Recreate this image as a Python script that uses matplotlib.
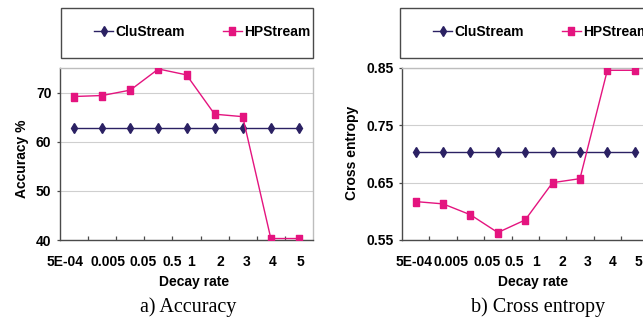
import matplotlib.pyplot as plt
from matplotlib.patches import Rectangle
from matplotlib.transforms import ScaledTranslation

decay_rates = ["5E-04", "0.005", "0.05", "0.5", "1", "2", "3", "4", "5"]

accuracy_clustream = [62.8, 62.8, 62.8, 62.8, 62.8, 62.8, 62.8, 62.8, 62.8]
accuracy_hpstream = [69.2, 69.4, 70.5, 74.8, 73.6, 65.6, 65.1, 40.3, 40.3]

entropy_clustream = [0.704, 0.704, 0.704, 0.704, 0.704, 0.704, 0.704, 0.704, 0.704]
entropy_hpstream = [0.617, 0.613, 0.594, 0.563, 0.585, 0.650, 0.657, 0.846, 0.846]

CLU_COLOR = "#2B2163"
HP_COLOR = "#E4147F"
DARK = "#4a4a4a"
LIGHT = "#bdbdbd"

# tall rectangle marker for HPStream
RECT = [(-0.36, -0.5), (0.36, -0.5), (0.36, 0.5), (-0.36, 0.5), (-0.36, -0.5)]

plt.rcParams["font.family"] = ["Liberation Sans", "DejaVu Sans"]
plt.rcParams["font.weight"] = "bold"

W, H = 643, 320
fig = plt.figure(figsize=(W / 100, H / 100), dpi=100)


def px_box(x0, y0, x1, y1):
    return [x0 / W, 1 - y1 / H, (x1 - x0) / W, (y1 - y0) / H]


def draw_panel(rect, clu, hp, ylim, yticks, yfmt, ylabel, ylabel_xy,
               label_shift, caption, caption_x, legend_box):
    ax = fig.add_axes(rect)
    x = range(len(decay_rates))
    ax.plot(x, clu, color=CLU_COLOR, lw=1.0, marker="d", ms=5.2,
            mec=CLU_COLOR, mfc=CLU_COLOR, label="CluStream", zorder=3)
    ax.plot(x, hp, color=HP_COLOR, lw=1.0, marker=RECT, ms=5.6,
            mec=HP_COLOR, mfc=HP_COLOR, label="HPStream", zorder=4)

    ax.set_xlim(-0.5, len(decay_rates) - 0.5)
    ax.set_ylim(*ylim)
    ax.set_yticks(yticks)
    ax.set_yticklabels([yfmt.format(v) for v in yticks])
    ax.yaxis.grid(True, color="#cfcfcf", lw=0.8)
    ax.set_axisbelow(True)

    ax.set_xticks(list(x))
    ax.set_xticklabels(decay_rates)
    ax.set_xticks([i + 0.5 for i in range(len(decay_rates) - 1)], minor=True)
    ax.tick_params(axis="x", which="major", length=0, pad=11, labelsize=10)
    ax.tick_params(axis="x", which="minor", direction="in", length=3,
                   width=0.9, color=DARK)
    ax.tick_params(axis="y", direction="out", length=2.2, width=0.9,
                   color=DARK, pad=4, labelsize=10)
    for lab, dx in zip(ax.get_xticklabels(), label_shift):
        lab.set_transform(lab.get_transform()
                          + ScaledTranslation(dx / 100, 0, fig.dpi_scale_trans))

    for side in ("left", "bottom"):
        ax.spines[side].set_color(DARK)
        ax.spines[side].set_linewidth(1.0)
    for side in ("top", "right"):
        ax.spines[side].set_color(LIGHT)
        ax.spines[side].set_linewidth(1.0)

    ax.set_xlabel("Decay rate", fontsize=10, fontweight="bold", va="center")
    ax.xaxis.set_label_coords(0.53, -0.244)
    ax.set_ylabel(ylabel, fontsize=10, fontweight="bold", va="center")
    ax.yaxis.set_label_coords(*ylabel_xy)

    fig.text(caption_x / W, 1 - 307 / H, caption, ha="center", va="center",
             fontsize=14.5, fontweight="normal",
             family=["Liberation Serif", "DejaVu Serif"])

    bx0, by0, bx1, by1 = legend_box
    fig.patches.append(Rectangle((bx0 / W, 1 - by1 / H), (bx1 - bx0) / W,
                                 (by1 - by0) / H, transform=fig.transFigure,
                                 fill=False, edgecolor=DARK, lw=1.0))
    handles, labels = ax.get_legend_handles_labels()
    fig.legend(handles, labels, loc="center left",
               bbox_to_anchor=((bx0 + 33) / W, 1 - 32 / H),
               ncol=2, frameon=False, borderpad=0, borderaxespad=0,
               handlelength=1.37, handletextpad=0.15, columnspacing=2.74,
               prop={"size": 10, "weight": "bold"})
    return ax


draw_panel(px_box(60, 68, 313, 240), accuracy_clustream, accuracy_hpstream,
           (40, 75), [40, 50, 60, 70], "{:.0f}", "Accuracy %", (-0.15, 0.471),
           [-9.3, 5.9, 13.2, 13.4, 4.6, 5.5, 3.8, 2.0, 1.2],
           "a) Accuracy", 188, (61, 8, 313, 58))

draw_panel(px_box(402, 68, 648.4, 240), entropy_clustream, entropy_hpstream,
           (0.55, 0.85), [0.55, 0.65, 0.75, 0.85], "{:.2f}", "Cross entropy",
           (-0.204, 0.506),
           [-1.8, 7.8, 16.3, 16.7, 10.5, 9.6, 7.8, 4.8, 3.7],
           "b) Cross entropy", 538, (400, 8, 650, 58))

fig.savefig("out.png", dpi=100)
